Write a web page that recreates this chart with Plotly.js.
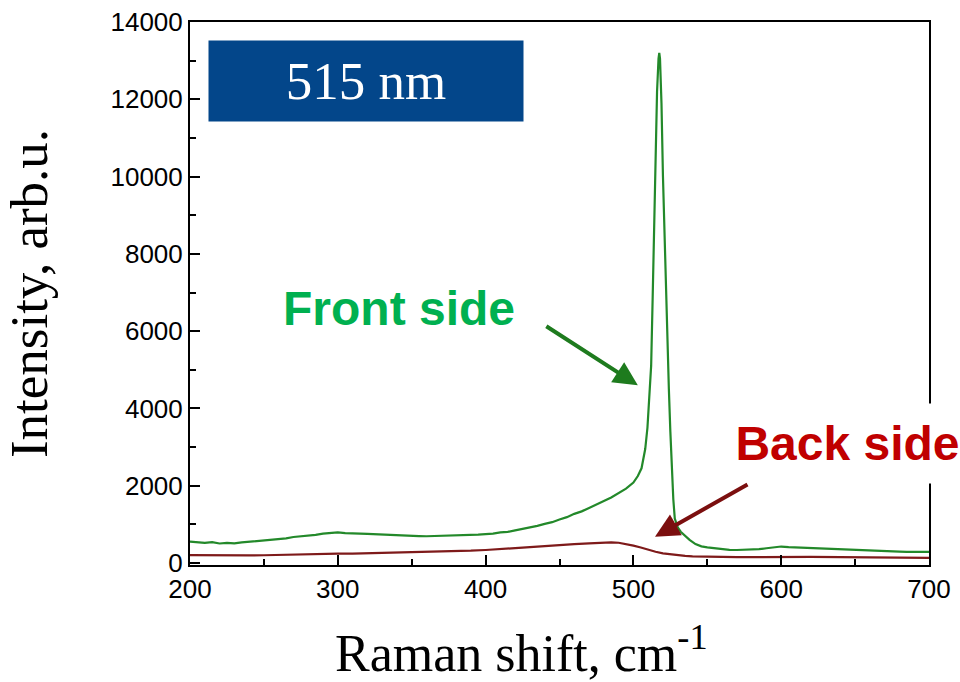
<!DOCTYPE html>
<html>
<head>
<meta charset="utf-8">
<script src="https://cdn.plot.ly/plotly-3.0.1.min.js"></script>
<style>html,body{margin:0;padding:0;background:#fff;}#chart{width:960px;height:682px;}</style>
</head>
<body>
<div id="chart"></div>
<script>
// Front side spectrum (Raman shift, cm-1 / intensity, arb.u.)
const frontShift = [200,205,210,215,220,225,230,235,240,245,250,255,260,265,270,275,280,285,290,295,300,305,310,315,320,325,330,335,340,345,350,355,360,365,370,375,380,385,390,395,400,405,410,415,420,425,430,435,440,445,450,455,460,465,470,475,480,485,490,495,500,503,505.5,508,509.5,511,512,513,514,515,516,517,517.5,518,519,520,521,522,523,524,525,526,527,528,530,532,535,538,542,546,550,555,560,565,570,575,580,585,590,595,600,605,610,615,620,625,630,635,640,645,650,655,660,665,670,675,680,685,690,695,700];
const frontIntensity = [555,530,522,538,505,518,510,532,548,558,575,588,622,636,672,688,718,728,758,776,792,772,774,760,752,742,744,722,724,706,708,696,692,698,686,702,708,706,722,732,748,758,792,806,842,876,922,962,1012,1056,1124,1186,1272,1336,1424,1506,1604,1696,1812,1926,2080,2250,2450,2950,3500,4300,5100,6800,8600,10600,12200,13050,13200,13050,11900,10000,8500,6900,5700,4500,3400,2400,1650,1150,920,810,700,600,490,430,405,378,352,338,336,342,344,358,382,408,426,408,402,388,386,378,372,362,356,344,342,332,326,318,316,302,296,288,278,286,290];

// Back side spectrum
const backShift = [200,210,220,230,240,250,260,270,280,290,300,310,320,330,340,350,360,370,380,390,400,410,420,430,440,450,460,470,475,480,485,490,495,500,505,510,515,520,525,530,535,540,550,560,570,580,590,600,620,640,660,680,700];
const backIntensity = [205,200,196,190,196,200,212,218,232,234,242,244,252,254,262,268,276,284,302,318,336,354,386,412,442,464,486,508,522,530,536,524,492,450,402,342,292,250,222,198,182,170,160,154,150,152,156,166,160,150,146,140,130];

const xTicks = [200,300,400,500,600,700];
const xMinorTicks = [250,350,450,550,650];
const yTicks = [0,2000,4000,6000,8000,10000,12000,14000];
const yMinorTicks = [1000,3000,5000,7000,9000,11000,13000];

const traces = [
  {x: frontShift, y: frontIntensity, type: 'scatter', mode: 'lines', name: 'Front side',
   line: {color: '#23892a', width: 2.2}, showlegend: false},
  {x: backShift, y: backIntensity, type: 'scatter', mode: 'lines', name: 'Back side',
   line: {color: '#7e1a1a', width: 2.2}, showlegend: false}
];

const tickFont = {family: 'Liberation Sans, Arial, sans-serif', size: 26, color: '#000'};
const serif = 'Liberation Serif, Times New Roman, serif';

const layout = {
  width: 960, height: 682,
  margin: {l: 190, r: 31, t: 22, b: 117},
  paper_bgcolor: '#fff', plot_bgcolor: '#fff',
  showlegend: false,
  xaxis: {
    range: [xTicks[0], xTicks[xTicks.length-1]],
    tickmode: 'array', tickvals: xTicks, ticktext: xTicks.map(String),
    ticks: 'inside', ticklen: 10, tickwidth: 2, tickcolor: '#000',
    minor: {tickmode: 'array', tickvals: xMinorTicks, ticks: 'inside', ticklen: 6, tickwidth: 2, tickcolor: '#000'},
    showline: true, linecolor: '#000', linewidth: 2, mirror: true,
    showgrid: false, zeroline: false,
    tickfont: tickFont
  },
  yaxis: {
    range: [-52, yTicks[yTicks.length-1]],
    tickmode: 'array', tickvals: yTicks, ticktext: yTicks.map(String),
    ticks: 'inside', ticklen: 10, tickwidth: 2, tickcolor: '#000',
    minor: {tickmode: 'array', tickvals: yMinorTicks, ticks: 'inside', ticklen: 6, tickwidth: 2, tickcolor: '#000'},
    showline: true, linecolor: '#000', linewidth: 2, mirror: true,
    showgrid: false, zeroline: false,
    tickfont: tickFont,
    title: {text: 'Intensity, arb.u.', standoff: 55,
            font: {family: serif, size: 53, color: '#000'}}
  },
  annotations: [
    {xref: 'paper', yref: 'paper', x: 0.449, y: -0.155, xanchor: 'center', yanchor: 'middle',
     text: 'Raman shift, cm<sup>-1</sup>', showarrow: false,
     font: {family: serif, size: 52, color: '#000'}},
    {xref: 'paper', yref: 'paper', x: (208-190)/739, y: (565-40)/543, xanchor: 'left', yanchor: 'top',
     width: 314, height: 80, bgcolor: '#03468a', borderpad: 0,
     text: '515 nm', showarrow: false,
     font: {family: serif, size: 53, color: '#fff'}},
    {xref: 'paper', yref: 'paper', x: (399-190)/739, y: (565-308)/543, xanchor: 'center', yanchor: 'middle',
     text: '<b>Front side</b>', showarrow: false,
     font: {family: 'Liberation Sans, Arial, sans-serif', size: 48, color: '#00b050'}},
    {xref: 'paper', yref: 'paper', x: (733-190)/739, y: (565-403)/543, xanchor: 'left', yanchor: 'top',
     width: 227, height: 79, bgcolor: '#fff', borderpad: 0,
     text: '<b>Back side</b>', showarrow: false,
     font: {family: 'Liberation Sans, Arial, sans-serif', size: 48, color: '#c00000'}},
    {x: 503, y: 4600, xref: 'x', yref: 'y', ax: -93, ay: -60, text: '', showarrow: true,
     arrowhead: 2, arrowsize: 1.2, arrowwidth: 4, arrowcolor: '#1e7b1e'},
    {x: 514.6, y: 680, xref: 'x', yref: 'y', ax: 94, ay: -53, text: '', showarrow: true,
     arrowhead: 2, arrowsize: 1.2, arrowwidth: 4, arrowcolor: '#7b0f0f'}
  ]
};

Plotly.newPlot('chart', traces, layout, {displayModeBar: false, staticPlot: true});
</script>
</body>
</html>
